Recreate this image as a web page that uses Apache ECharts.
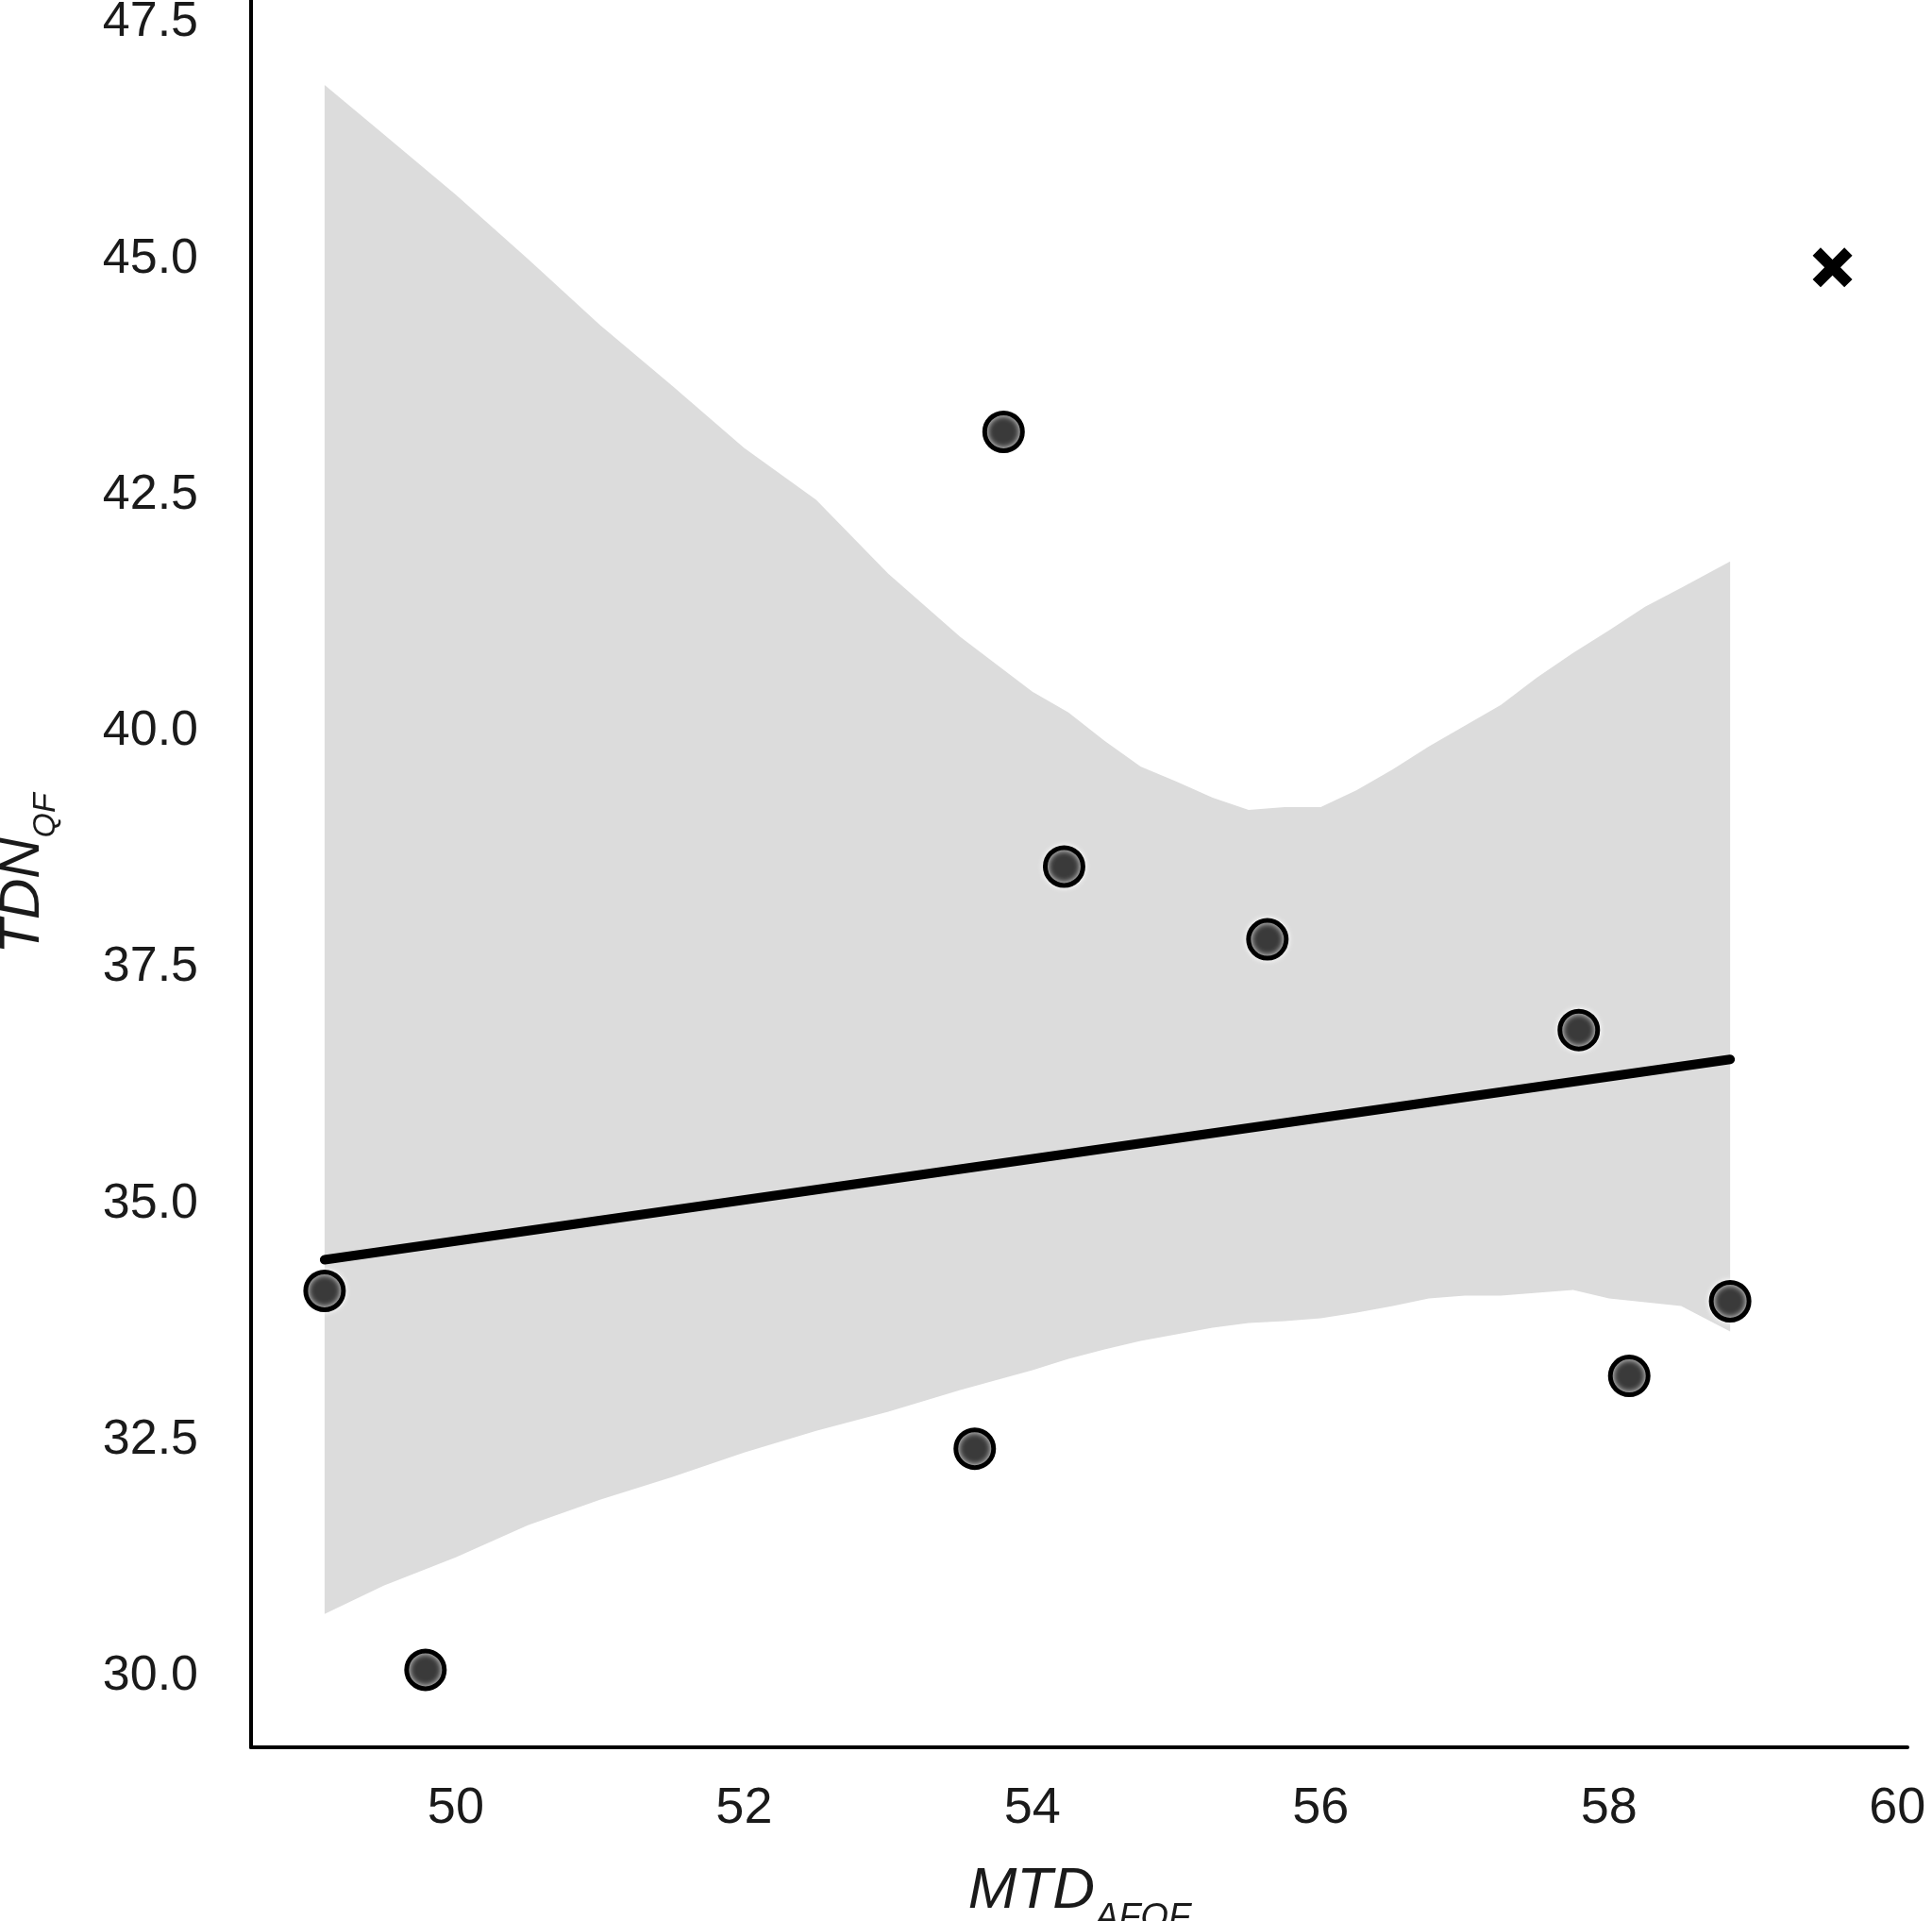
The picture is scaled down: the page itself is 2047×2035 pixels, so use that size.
<!DOCTYPE html>
<html>
<head>
<meta charset="utf-8">
<title>TDN vs MTD</title>
<script src="https://cdn.jsdelivr.net/npm/echarts@6/dist/echarts.min.js"></script>
<style>
    html, body { margin: 0; padding: 0; background: #fff; }
    #main { width: 2047px; height: 2035px; }
</style>
</head>
<body>
<div id="main"></div>
<script>
// observed points (MTD_AFQF, TDN_QF)
var pointX = [49.09, 49.79, 53.60, 53.80, 54.22, 55.63, 57.79, 58.14, 58.84];
var pointY = [34.08, 30.07, 32.41, 43.17, 38.57, 37.80, 36.84, 33.18, 33.97];

// excluded point, drawn as a cross
var outlierX = [59.55];
var outlierY = [44.91];

// fitted regression line end points
var fitX = [49.09, 58.84];
var fitY = [34.41, 36.53];

// confidence band
var bandX = [49.09, 49.5, 50.0, 50.5, 51.0, 51.5, 52.0, 52.5, 53.0, 53.5,
    54.0, 54.25, 54.5, 54.75, 55.0, 55.25, 55.5, 55.75, 56.0, 56.25,
    56.5, 56.75, 57.0, 57.25, 57.5, 57.75, 58.0, 58.25, 58.5, 58.84];
var bandLower = [30.66, 30.96, 31.26, 31.60, 31.87, 32.11, 32.37, 32.60, 32.80, 33.03,
    33.24, 33.36, 33.46, 33.55, 33.62, 33.69, 33.74, 33.76, 33.79, 33.85,
    33.92, 34.00, 34.03, 34.03, 34.06, 34.09, 34.00, 33.96, 33.92, 33.65];
var bandUpper = [46.84, 46.32, 45.68, 45.00, 44.30, 43.66, 43.00, 42.45, 41.67, 41.00,
    40.42, 40.20, 39.90, 39.63, 39.47, 39.30, 39.17, 39.20, 39.20, 39.38,
    39.60, 39.84, 40.06, 40.28, 40.57, 40.83, 41.07, 41.32, 41.52, 41.80];

// tick labels
var xTicks = [50, 52, 54, 56, 58, 60];
var yTicks = [30, 32.5, 35, 37.5, 40, 42.5, 45, 47.5];

var font = 'Liberation Sans, Arial, sans-serif';

function pairs(xs, ys) {
    var out = [];
    for (var i = 0; i < xs.length; i++) {
        out.push([xs[i], ys[i]]);
    }
    return out;
}

/**
 * 置信带：上沿从左到右，下沿从右到左，围成一个多边形
 */
function renderBand(params, api) {
    if (params.dataIndex !== 0) {
        return;
    }
    var points = [];
    for (var i = 0; i < bandX.length; i++) {
        points.push(api.coord([bandX[i], bandUpper[i]]));
    }
    for (var j = bandX.length - 1; j >= 0; j--) {
        points.push(api.coord([bandX[j], bandLower[j]]));
    }
    return {
        type: 'polygon',
        shape: {points: points},
        style: {fill: '#dcdcdc'}
    };
}

var option = {
    backgroundColor: '#fff',
    animation: false,
    grid: {
        left: 266,
        right: 26,
        top: 0,
        bottom: 184,
        containLabel: false,
        outerBoundsMode: 'none'
    },
    xAxis: {
        type: 'value',
        min: 48.58,
        max: 60.07,
        name: '{m|MTD}{s|AFQF}',
        nameLocation: 'middle',
        nameGap: 122,
        nameTextStyle: {
            rich: {
                m: {fontFamily: font, fontStyle: 'italic', fontSize: 62, color: '#1a1a1a'},
                s: {fontFamily: font, fontStyle: 'italic', fontSize: 38, color: '#1a1a1a', verticalAlign: 'bottom', padding: [0, 0, -16, 0]}
            }
        },
        axisLine: {lineStyle: {color: '#000', width: 4}},
        axisTick: {show: false},
        splitLine: {show: false},
        axisLabel: {
            customValues: xTicks,
            margin: 38,
            fontFamily: font,
            fontSize: 54,
            color: '#1a1a1a'
        }
    },
    yAxis: {
        type: 'value',
        min: 29.25,
        max: 47.74,
        name: '{m|TDN}{s|QF}',
        nameLocation: 'middle',
        nameGap: 212,
        nameTextStyle: {
            rich: {
                m: {fontFamily: font, fontStyle: 'italic', fontSize: 60, color: '#1a1a1a'},
                s: {fontFamily: font, fontStyle: 'italic', fontSize: 34, color: '#1a1a1a', verticalAlign: 'bottom', padding: [0, 0, -12, 0]}
            }
        },
        axisLine: {show: true, lineStyle: {color: '#000', width: 4}},
        axisTick: {show: false},
        splitLine: {show: false},
        axisLabel: {
            customValues: yTicks,
            margin: 56,
            fontFamily: font,
            fontSize: 52,
            color: '#1a1a1a',
            formatter: function (v) {
                return v.toFixed(1);
            }
        }
    },
    series: [
        {
            type: 'custom',
            renderItem: renderBand,
            data: [[bandX[0], bandLower[0]]],
            silent: true,
            clip: true,
            z: 1
        },
        {
            type: 'line',
            data: pairs(fitX, fitY),
            symbol: 'none',
            lineStyle: {color: '#000', width: 10, cap: 'round'},
            z: 2
        },
        {
            type: 'scatter',
            data: pairs(pointX, pointY),
            symbol: 'circle',
            symbolSize: 40,
            itemStyle: {
                color: '#3a3a3a',
                borderColor: '#000',
                borderWidth: 5,
                opacity: 1,
                shadowColor: '#fff',
                shadowBlur: 6
            },
            z: 3
        },
        {
            type: 'scatter',
            data: pairs(outlierX, outlierY),
            symbol: 'path://M2,0 L5,3 L8,0 L10,2 L7,5 L10,8 L8,10 L5,7 L2,10 L0,8 L3,5 L0,2 Z',
            symbolSize: 42,
            itemStyle: {color: '#000', opacity: 1},
            z: 3
        }
    ]
};

var myChart = echarts.init(document.getElementById('main'));
myChart.setOption(option);
</script>
</body>
</html>
